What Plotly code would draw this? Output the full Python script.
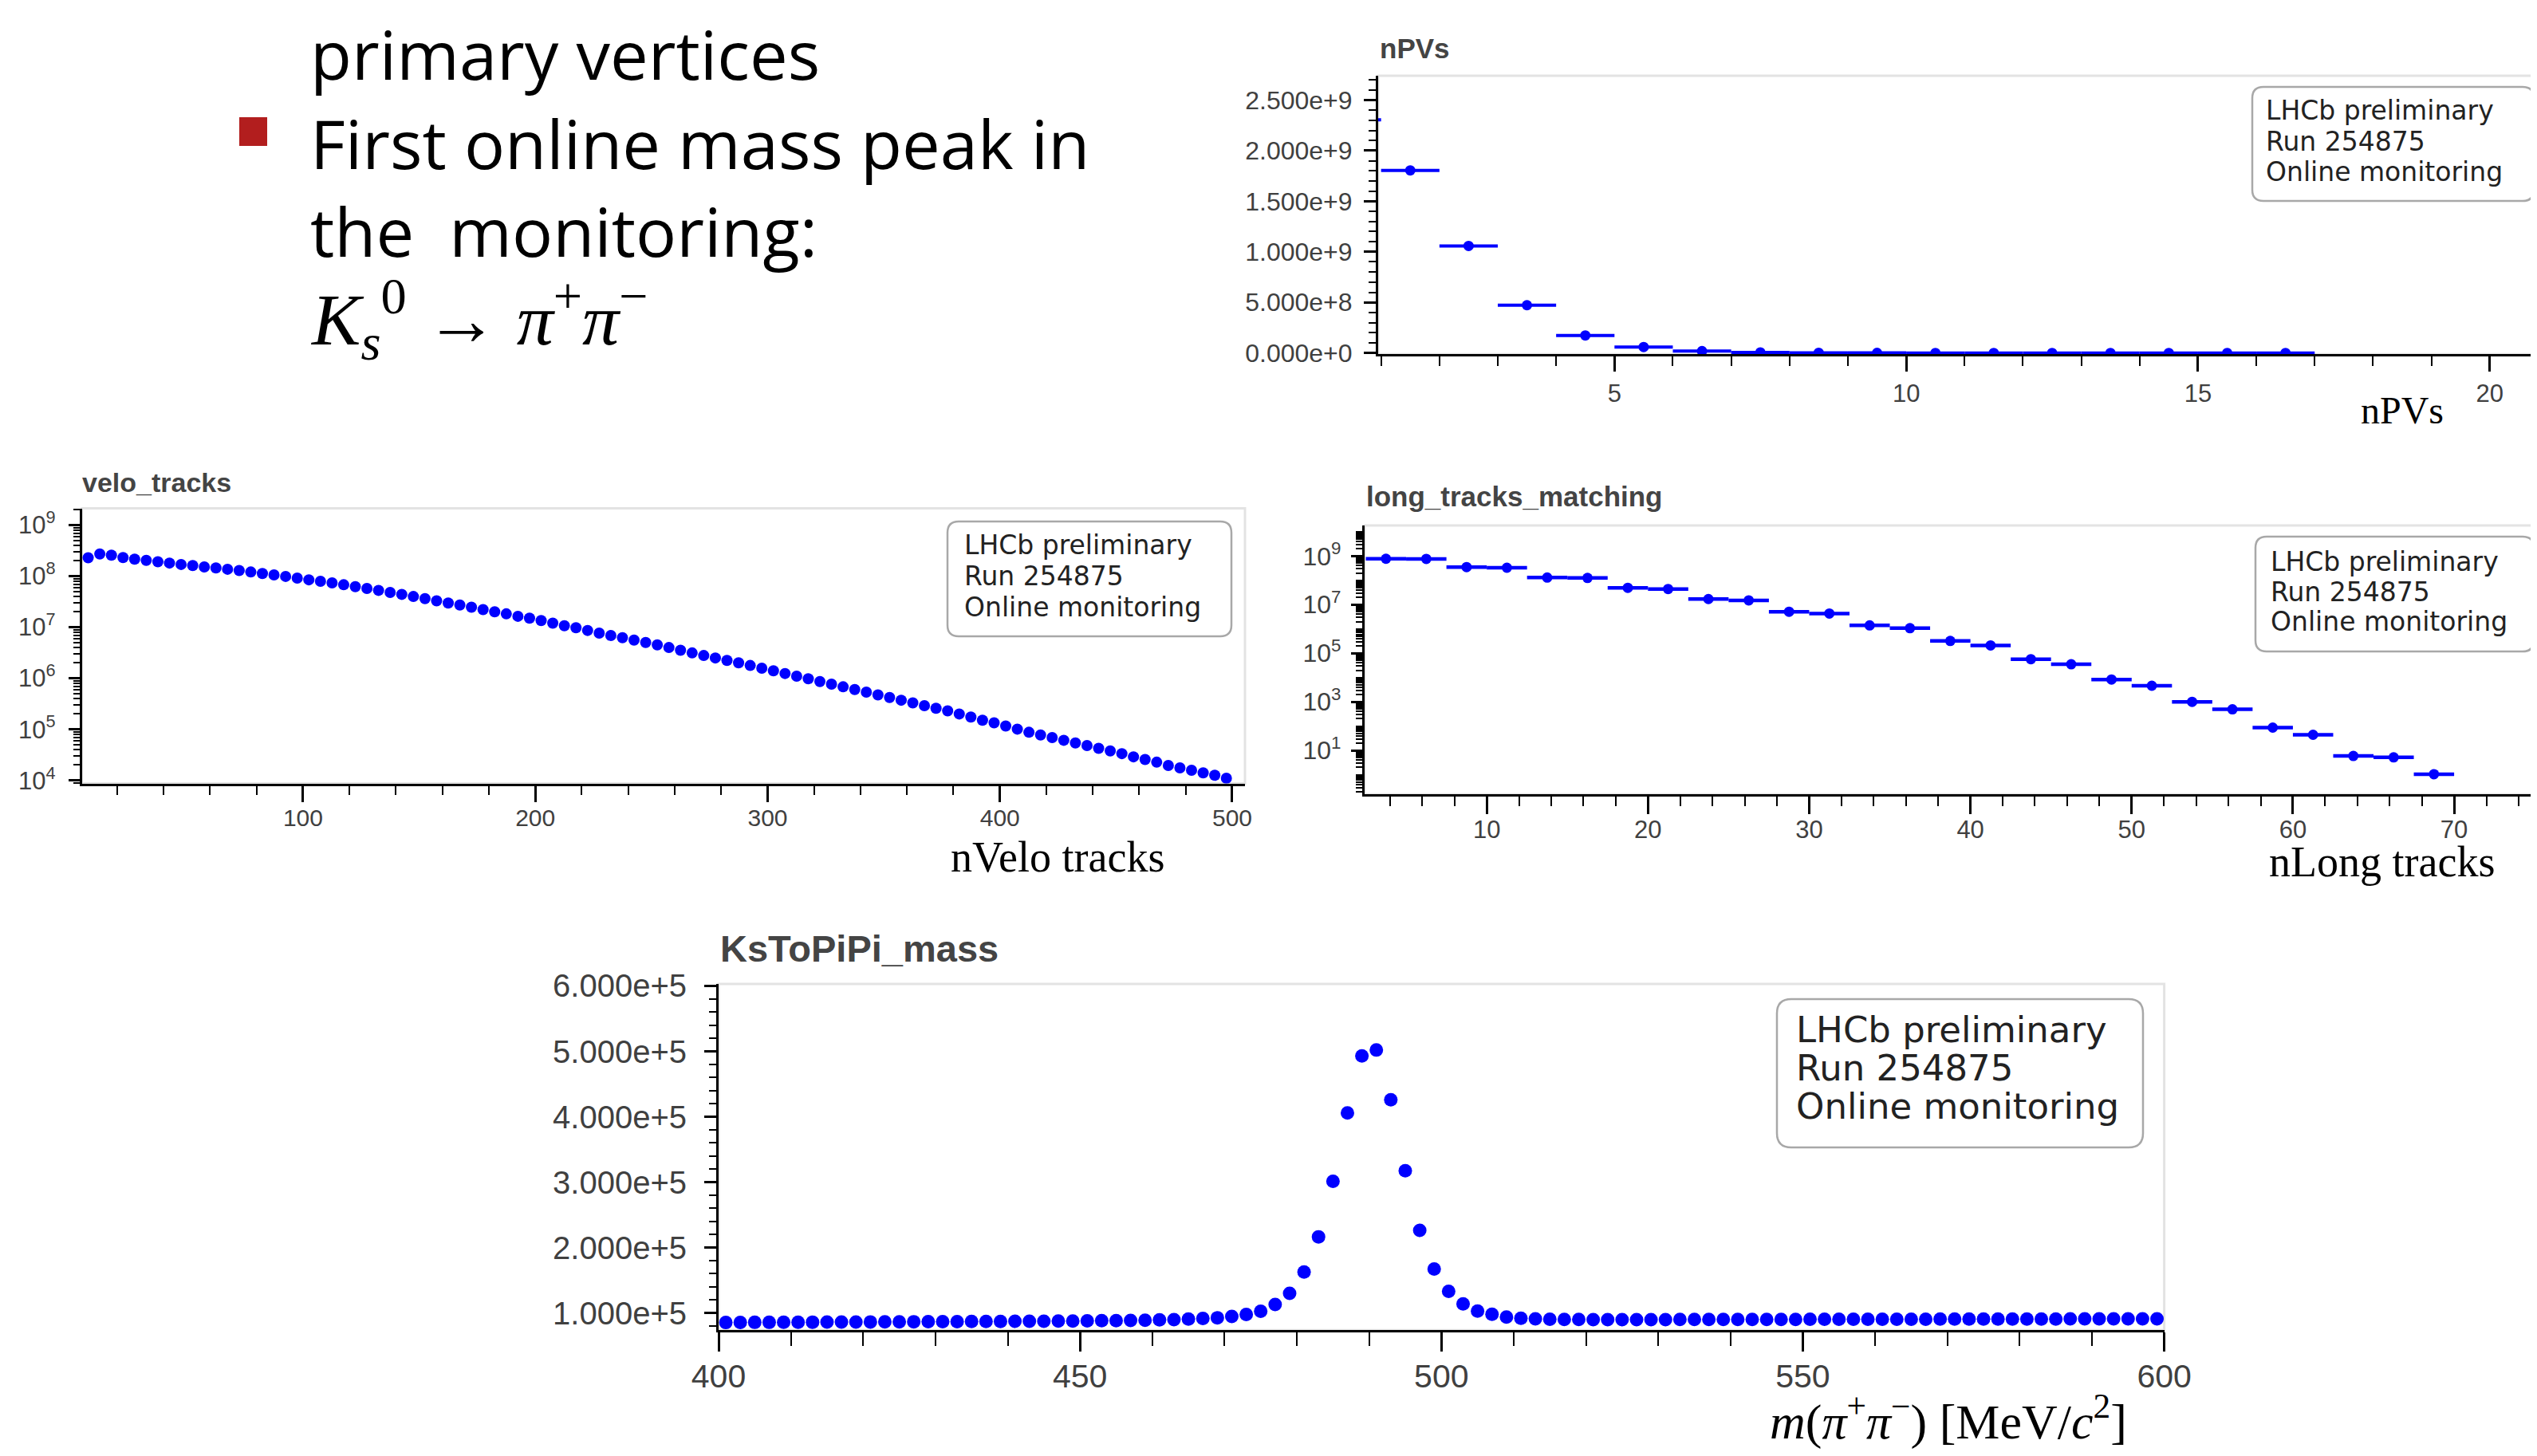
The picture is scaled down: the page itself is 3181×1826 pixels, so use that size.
import plotly.graph_objects as go

W, H = 3181, 1826
OFF = 8  # page body margin compensation

# ---------------- data ----------------
npv_centers = [0.5, 1.5, 2.5, 3.5, 4.5, 5.5, 6.5, 7.5, 8.5, 9.5, 10.5, 11.5, 12.5, 13.5, 14.5, 15.5, 16.5]
npv_counts = [2.305e9, 1.805e9, 1.058e9, 4.72e8, 1.73e8, 5.9e7, 1.9e7, 6.0e6, 1.8e6, 5.0e5,
              1.3e5, 3.5e4, 9.0e3, 2.4e3, 6.0e2, 1.6e2, 4.0e1]
npv_halfwidth = 0.5

velo_first_center, velo_bin_width = 7.5, 5.0
velo_counts = [2.30e8, 2.72e8, 2.59e8, 2.32e8, 2.16e8, 2.04e8, 1.92e8, 1.81e8, 1.70e8, 1.62e8,
               1.52e8, 1.45e8, 1.37e8, 1.29e8, 1.21e8, 1.13e8, 1.06e8, 9.9e7, 9.2e7, 8.5e7,
               7.96e7, 7.4e7, 6.8e7, 6.25e7, 5.74e7, 5.28e7, 4.8e7, 4.41e7, 4.0e7, 3.63e7,
               3.30e7, 2.99e7, 2.72e7, 2.47e7, 2.22e7, 2.01e7, 1.83e7, 1.64e7, 1.51e7, 1.35e7,
               1.20e7, 1.07e7, 9.77e6, 8.65e6, 7.67e6, 6.89e6, 6.25e6, 5.61e6, 5.04e6, 4.51e6,
               4.0e6, 3.55e6, 3.14e6, 2.79e6, 2.50e6, 2.24e6, 2.01e6, 1.78e6, 1.58e6, 1.40e6,
               1.24e6, 1.10e6, 9.77e5, 8.65e5, 7.67e5, 6.80e5, 6.03e5, 5.35e5, 4.73e5, 4.20e5,
               3.72e5, 3.30e5, 2.90e5, 2.59e5, 2.30e5, 2.00e5, 1.74e5, 1.51e5, 1.34e5, 1.16e5,
               1.01e5, 8.75e4, 7.76e4, 6.89e4, 6.10e4, 5.41e4, 4.80e4, 4.25e4, 3.77e4, 3.34e4,
               2.89e4, 2.56e4, 2.27e4, 1.96e4, 1.76e4, 1.58e4, 1.40e4, 1.26e4, 1.10e4]

long_first_center, long_bin_width = 3.75, 2.5
long_counts = [7.7e8, 7.6e8, 3.5e8, 3.3e8, 1.3e8, 1.25e8, 4.9e7, 4.4e7, 1.7e7, 1.5e7,
               5.1e6, 4.3e6, 1.4e6, 1.07e6, 3.2e5, 2.1e5, 5.7e4, 3.5e4, 8.3e3, 4.6e3,
               1.0e3, 4.9e2, 87, 44, 5.9, 5.2, 1.05]

ks_first_center, ks_bin_width = 401, 2
ks_counts = [85500, 85700, 85800, 85800, 85900, 86000, 86100, 86200, 86200, 86300,
             86400, 86500, 86600, 86700, 86800, 86900, 87000, 87100, 87200, 87300,
             87400, 87500, 87600, 87800, 87900, 88100, 88300, 88500, 88800, 89100,
             89500, 90000, 90800, 91800, 92800, 94800, 97800, 102800, 113000, 130000,
             162700, 216500, 301500, 406000, 493000, 502000, 426000, 317500, 226500, 167200,
             133200, 114100, 103000, 98000, 94000, 92000, 91200, 90600, 90300, 90100,
             90000, 89900, 89900, 90000, 90000, 90000, 90100, 90100, 90100, 90200,
             90200, 90200, 90300, 90300, 90300, 90400, 90400, 90400, 90500, 90500,
             90500, 90600, 90600, 90600, 90700, 90700, 90700, 90800, 90800, 90800,
             90900, 90900, 90900, 91000, 91000, 91000, 91100, 91100, 91200, 91200]

velo_x = [velo_first_center + velo_bin_width * i for i in range(len(velo_counts))]
long_x = [long_first_center + long_bin_width * i for i in range(len(long_counts))]
ks_x = [ks_first_center + ks_bin_width * i for i in range(len(ks_counts))]

BLUE = "#0000ff"
TICKFONT = "Liberation Sans, Arial, sans-serif"
TICKCOL = "#404040"


def X(px):
    return (px - OFF) / W


def Y(py):
    return 1 - (py - OFF) / H


fig = go.Figure()

fig.add_trace(go.Scatter(x=npv_centers, y=npv_counts, mode="markers",
                         marker=dict(color=BLUE, size=13),
                         error_x=dict(type="constant", value=npv_halfwidth, thickness=4, width=0, color=BLUE),
                         xaxis="x", yaxis="y"))
fig.add_trace(go.Scatter(x=velo_x, y=velo_counts, mode="markers",
                         marker=dict(color=BLUE, size=14),
                         xaxis="x2", yaxis="y2"))
fig.add_trace(go.Scatter(x=long_x, y=long_counts, mode="markers",
                         marker=dict(color=BLUE, size=13),
                         error_x=dict(type="constant", value=long_bin_width / 2, thickness=4.5, width=0, color=BLUE),
                         xaxis="x3", yaxis="y3"))
fig.add_trace(go.Scatter(x=ks_x, y=ks_counts, mode="markers",
                         marker=dict(color=BLUE, size=17),
                         xaxis="x4", yaxis="y4"))


def axis_common(fs, ticklen=18, standoff=12):
    return dict(showline=True, linecolor="black", linewidth=3, ticks="outside",
                ticklen=ticklen, tickwidth=3, tickcolor="black",
                tickfont=dict(family=TICKFONT, size=fs, color=TICKCOL),
                showgrid=False, zeroline=False, ticklabelstandoff=standoff,
                automargin=False)


def minor(ticklen, **kw):
    d = dict(ticks="outside", ticklen=ticklen, tickwidth=2, tickcolor="black", showgrid=False)
    d.update(kw)
    return d


def log_minor(lo, hi):
    return [m * 10 ** e for e in range(lo, hi) for m in range(2, 10)]


layout = dict(
    width=W, height=H, margin=dict(l=0, r=0, t=0, b=0, pad=0), autosize=False,
    paper_bgcolor="white", plot_bgcolor="white", showlegend=False,
)

# nPVs
layout["xaxis"] = dict(domain=[X(1728), 1.0], anchor="y", range=[0.95, 20.81 + OFF / 73.15],
                       tick0=0, dtick=5, minor=minor(12, dtick=1), **axis_common(31, 19, 0))
layout["yaxis"] = dict(domain=[Y(444.3), Y(95)], anchor="x", range=[-1.3e7, 2.74e9],
                       tick0=0, dtick=5e8, tickformat=".3e", minor=minor(9, dtick=1e8),
                       **axis_common(32, 15, 8))
# velo
layout["xaxis2"] = dict(domain=[X(102.7), X(1561)], anchor="y2", range=[4.8, 505.5],
                        tick0=0, dtick=100, minor=minor(11, dtick=20), **axis_common(30, 20, -6))
layout["yaxis2"] = dict(domain=[Y(982.5), Y(637.5)], anchor="x2", type="log", range=[3.94, 9.33],
                        tickvals=[1e4, 1e5, 1e6, 1e7, 1e8, 1e9],
                        ticktext=["10<sup>%d</sup>" % e for e in range(4, 10)],
                        minor=minor(8, tickvals=log_minor(3, 10)), **axis_common(31, 14, 10))
# long
layout["xaxis3"] = dict(domain=[X(1710.9), 1.0], anchor="y3", range=[2.42, 75.14 + OFF / 20.21],
                        tick0=0, dtick=10, minor=minor(12, dtick=2), **axis_common(31, 22, -8))
layout["yaxis3"] = dict(domain=[Y(996.3), Y(658.9)], anchor="x3", type="log", range=[-0.81, 10.26],
                        tickvals=[1e1, 1e3, 1e5, 1e7, 1e9],
                        ticktext=["10<sup>%d</sup>" % e for e in (1, 3, 5, 7, 9)],
                        minor=minor(8, tickvals=[10 ** e for e in range(0, 11, 2)] + log_minor(-1, 11)),
                        **axis_common(32, 14, 6))
# Ks
layout["xaxis4"] = dict(domain=[X(901), X(2713.6)], anchor="y4", range=[400, 600],
                        tick0=0, dtick=50, minor=minor(17, dtick=10), **axis_common(41, 24, -5))
layout["yaxis4"] = dict(domain=[Y(1668.3), Y(1234)], anchor="x4", range=[73700, 603000],
                        tick0=0, dtick=1e5, tickformat=".3e", minor=minor(9, dtick=2e4),
                        **axis_common(40, 15, 14))

fig.update_layout(**layout)

shapes = []
# light frame around each plot area
for xa, ya in (("x", "y"), ("x2", "y2"), ("x3", "y3"), ("x4", "y4")):
    shapes.append(dict(type="rect", xref=xa + " domain", yref=ya + " domain", x0=0, x1=1, y0=0, y1=1,
                       line=dict(color="#e3e3e3", width=3), layer="below"))


def rounded_box(x0, y0, x1, y1, r):
    rx, ry = r, r
    p = (f"M {X(x0 + rx)},{Y(y0)} L {X(x1 - rx)},{Y(y0)} Q {X(x1)},{Y(y0)} {X(x1)},{Y(y0 + ry)} "
         f"L {X(x1)},{Y(y1 - ry)} Q {X(x1)},{Y(y1)} {X(x1 - rx)},{Y(y1)} "
         f"L {X(x0 + rx)},{Y(y1)} Q {X(x0)},{Y(y1)} {X(x0)},{Y(y1 - ry)} "
         f"L {X(x0)},{Y(y0 + ry)} Q {X(x0)},{Y(y0)} {X(x0 + rx)},{Y(y0)} Z")
    return dict(type="path", xref="paper", yref="paper", path=p,
                line=dict(color="#a8a8a8", width=2.5), fillcolor="rgba(255,255,255,0.9)")


boxes = [
    (2824, 109, 3177, 252, 14),
    (1188, 654, 1544, 798, 14),
    (2828, 673, 3177, 817, 14),
    (2228, 1253, 2687, 1439, 18),
]
for b in boxes:
    shapes.append(rounded_box(*b))

# red bullet
shapes.append(dict(type="rect", xref="paper", yref="paper", x0=X(300), x1=X(335), y0=Y(183), y1=Y(147),
                   fillcolor="#b21e1e", line=dict(width=0)))

annotations = []


def text(s, x, y, size, family, color="black", xanchor="left", bold=False):
    if bold:
        s = "<b>" + s + "</b>"
    annotations.append(dict(text=s, x=X(x), y=Y(y), xref="paper", yref="paper", showarrow=False,
                            xanchor=xanchor, yanchor="middle",
                            font=dict(family=family, size=size, color=color)))


LEG = "DejaVu Sans, sans-serif"
legend_lines = ["LHCb preliminary", "Run 254875", "Online monitoring"]
legend_specs = [
    (2839, [150, 188.5, 227], 33),
    (1207, [695, 734, 772.7], 33),
    (2845, [715.7, 753.6, 791.4], 33),
    (2250, [1307, 1355, 1403], 45),
]
for lx, bases, fs in legend_specs:
    for line, b in zip(legend_lines, bases):
        text(line, lx, b - 0.346 * fs, fs, LEG, color="#222222")

# plot titles
TITLEF = "Liberation Sans, Arial, sans-serif"
text("nPVs", 1728, 60.5, 35, TITLEF, color="#444444", bold=True)
text("velo_tracks", 101, 605, 34, TITLEF, color="#444444", bold=True)
text("long_tracks_matching", 1711, 622.7, 35, TITLEF, color="#444444", bold=True)
text("KsToPiPi_mass", 901, 1189, 47, TITLEF, color="#444444", bold=True)

# axis titles (serif)
SERIF = "Liberation Serif, Times New Roman, serif"
text("nPVs", 3012, 514, 48, SERIF, xanchor="center")
text("nVelo tracks", 1326, 1075, 54, SERIF, xanchor="center")
text("nLong tracks", 2986, 1081, 54, SERIF, xanchor="center")
text("<i>m</i>(<i>π</i><sup>+</sup><i>π</i><sup>−</sup>) [MeV/<i>c</i><sup>2</sup>]", 2443, 1778, 62, SERIF,
     xanchor="center")

# slide text
SANS = "Open Sans, sans-serif"
fs_slide = 85
text("primary vertices", 387, 100 - 0.388 * fs_slide, fs_slide, SANS)
text("First online mass peak in", 387, 211.7 - 0.388 * fs_slide, fs_slide, SANS)
text("the\u00a0 monitoring:", 387, 321.7 - 0.388 * fs_slide, fs_slide, SANS)
text("<i>K</i><sub><i>s</i></sub><sup>0</sup> → <i>π</i><sup>+</sup><i>π</i><sup>−</sup>",
     387, 431.7 - 0.34 * 92, 92, SERIF)

fig.update_layout(shapes=shapes, annotations=annotations)

fig.write_html("out.html")
